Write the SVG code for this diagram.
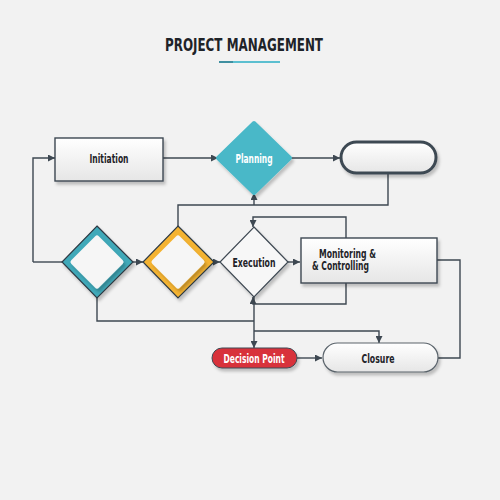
<svg xmlns="http://www.w3.org/2000/svg" width="500" height="500" viewBox="0 0 500 500">
<defs>
<style>
.t{font-family:"Liberation Sans Narrow","DejaVu Sans Condensed","Liberation Sans",sans-serif;font-weight:bold;fill:#1e2328;text-anchor:middle}
.ln{fill:none;stroke:#3e4852;stroke-width:1.4}
.box{fill:url(#g);stroke:#3e4852;stroke-width:1.4}
</style>
<linearGradient id="g" x1="0" y1="0" x2="0" y2="1"><stop offset="0" stop-color="#ffffff"/><stop offset="1" stop-color="#e6e6e6"/></linearGradient>
<marker id="a" viewBox="0 0 10 10" refX="10" refY="5" markerWidth="7" markerHeight="7" orient="auto" markerUnits="userSpaceOnUse"><path d="M0,0L10,5L0,10z" fill="#3e4852"/></marker>
<filter id="sh" x="-20%" y="-20%" width="150%" height="150%"><feDropShadow dx="2" dy="3" stdDeviation="1.5" flood-color="#000" flood-opacity="0.22"/></filter>
</defs>
<rect width="500" height="500" fill="#f2f2f2"/>
<g id="title">
<text class="t" x="244" y="51" font-size="17.5" textLength="158" lengthAdjust="spacingAndGlyphs">PROJECT MANAGEMENT</text>
<rect x="219" y="61" width="14" height="2" fill="#3f8fa0"/>
<rect x="233" y="61" width="47" height="2" fill="#5bbfd0"/>
</g>
<g id="connectors">
<path class="ln" d="M33,262V158H55" marker-end="url(#a)"/>
<path class="ln" d="M163,158H218" marker-end="url(#a)"/>
<path class="ln" d="M290,158H340" marker-end="url(#a)"/>
<path class="ln" d="M388,173V205H178V227"/>
<path class="ln" d="M254,205V193" marker-end="url(#a)"/>
<path class="ln" d="M62,262H33"/>
<path class="ln" d="M133,262H143" marker-end="url(#a)"/>
<path class="ln" d="M214,262H220" marker-end="url(#a)"/>
<path class="ln" d="M288,262H300" marker-end="url(#a)"/>
<path class="ln" d="M346,238V217H253V227" marker-end="url(#a)"/>
<path class="ln" d="M346,283V304H253V297" marker-end="url(#a)"/>
<path class="ln" d="M97,297V321H254"/>
<path class="ln" d="M254,297V348" marker-end="url(#a)"/>
<path class="ln" d="M254,331H379V343" marker-end="url(#a)"/>
<path class="ln" d="M297,358H322" marker-end="url(#a)"/>
<path class="ln" d="M437,260H460V358H438"/>
</g>
<g id="initiation">
<rect class="box" x="55" y="138" width="108" height="43" filter="url(#sh)"/>
<text class="t" x="109" y="162.5" font-size="13" textLength="39" lengthAdjust="spacingAndGlyphs">Initiation</text>
</g>
<g id="planning">
<path d="M254,123L290,158L254,193L218,158Z" fill="#49b8c8" stroke="#49b8c8" stroke-width="4" stroke-linejoin="round" filter="url(#sh)"/>
<text class="t" x="254" y="162.5" font-size="13" textLength="37" lengthAdjust="spacingAndGlyphs" style="fill:#ffffff">Planning</text>
</g>
<g id="end-pill">
<rect x="341" y="142" width="95" height="31" rx="15.5" fill="url(#g)" stroke="#3e4852" stroke-width="3" filter="url(#sh)"/>
</g>
<g id="teal-diamond">
<path d="M97,226L133,262L97,298L62,262Z" fill="#3fa9b9" stroke="#2e3a44" stroke-width="1.2" filter="url(#sh)"/>
<path d="M97,238L121,262L97,286L73,262Z" fill="#f6f6f6" stroke="#f6f6f6" stroke-width="5" stroke-linejoin="round" filter="url(#sh)"/>
</g>
<g id="orange-diamond">
<path d="M178,226L214,262L178,298L143,262Z" fill="#f4b331" stroke="#2e3a44" stroke-width="1.2" filter="url(#sh)"/>
<path d="M178,238L202,262L178,286L154,262Z" fill="#f6f6f6" stroke="#f6f6f6" stroke-width="5" stroke-linejoin="round" filter="url(#sh)"/>
</g>
<g id="execution">
<path d="M254,227L288,262L254,297L220,262Z" fill="#f7f7f7" stroke="#3e4852" stroke-width="1.2" filter="url(#sh)"/>
<text class="t" x="254" y="266.5" font-size="13" textLength="43" lengthAdjust="spacingAndGlyphs">Execution</text>
</g>
<g id="monitoring">
<rect class="box" x="301" y="238" width="136" height="45" filter="url(#sh)"/>
<text class="t" x="319" y="257.5" font-size="12" textLength="57" lengthAdjust="spacingAndGlyphs" style="text-anchor:start">Monitoring &amp;</text>
<text class="t" x="312" y="270" font-size="12" textLength="57" lengthAdjust="spacingAndGlyphs" style="text-anchor:start">&amp; Controlling</text>
</g>
<g id="decision-point">
<rect x="212" y="348" width="85" height="20" rx="10" fill="#d8303b" stroke="#3e4852" stroke-width="1" filter="url(#sh)"/>
<text class="t" x="254" y="362.5" font-size="12" textLength="61" lengthAdjust="spacingAndGlyphs" style="fill:#ffffff">Decision Point</text>
</g>
<g id="closure">
<rect x="323" y="343" width="115" height="29" rx="14.5" fill="url(#g)" stroke="#5a636b" stroke-width="1.2" filter="url(#sh)"/>
<text class="t" x="378" y="362.5" font-size="13" textLength="33" lengthAdjust="spacingAndGlyphs">Closure</text>
</g>
</svg>
